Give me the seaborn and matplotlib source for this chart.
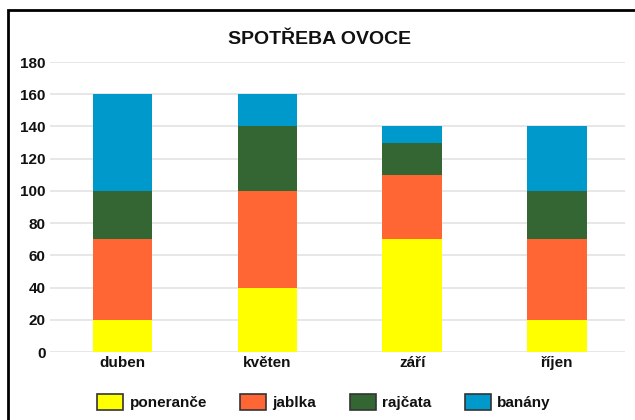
import matplotlib
matplotlib.use("Agg")
import matplotlib.pyplot as plt
import seaborn as sns
import pandas as pd
from matplotlib.patches import Rectangle, Patch

months = ["duben", "květen", "září", "říjen"]
fruits = ["poneranče", "jablka", "rajčata", "banány"]
ponerance = [20, 40, 70, 20]
jablka = [50, 60, 40, 50]
rajcata = [30, 40, 20, 30]
banany = [60, 20, 10, 40]
colors = ["#FFFF00", "#FF6633", "#336633", "#0099CC"]

sns.set_theme(style="white")
plt.rcParams["font.family"] = ["Liberation Sans", "DejaVu Sans"]
plt.rcParams["text.color"] = "#111111"

df = pd.DataFrame({"month": months, "poneranče": ponerance, "jablka": jablka,
                   "rajčata": rajcata, "banány": banany})
cum = df[fruits].cumsum(axis=1)
cum["month"] = months

fig = plt.figure(figsize=(6.35, 4.2), dpi=100)
ax = fig.add_axes([50 / 635, 68 / 420, 575 / 635, 290 / 420])

# stacked bars: draw the cumulative totals from the top layer down
for fruit, col in reversed(list(zip(fruits, colors))):
    sns.barplot(data=cum, x="month", y=fruit, order=months, color=col,
                width=0.41, saturation=1, linewidth=0, ax=ax, zorder=3)

ax.set_ylim(0, 180)
ax.set_yticks(range(0, 181, 20))
ax.set_xlim(-0.5, 3.47)
ax.grid(True, axis="y", color="#e3e3e3", linewidth=1.2, zorder=0)
ax.set_axisbelow(True)
for s in ax.spines.values():
    s.set_visible(False)
ax.set_xlabel("")
ax.set_ylabel("")
ax.tick_params(axis="both", length=0, labelsize=11, labelcolor="#111111")
ax.tick_params(axis="x", pad=3)
ax.tick_params(axis="y", pad=3)
for lab in ax.get_xticklabels() + ax.get_yticklabels():
    lab.set_fontweight("bold")

fig.text(0.504, 1 - 39 / 420, "SPOTŘEBA OVOCE", ha="center", va="center",
         fontsize=14, fontweight="bold", color="#111111")

handles = [Patch(facecolor=c, edgecolor="#333333", linewidth=1.2) for c in colors]
fig.legend(handles, fruits, loc="center", bbox_to_anchor=(324 / 635, 1 - 402 / 420),
           ncol=4, frameon=False, prop={"weight": "bold", "size": 11},
           handlelength=1.7, handleheight=1.3, columnspacing=2.2, handletextpad=0.4)

fig.patches.append(Rectangle((8 / 635, -0.05), 1.2, 1 - 10 / 420 + 0.05,
                             transform=fig.transFigure, fill=False,
                             edgecolor="black", linewidth=2))

fig.savefig("out.png", dpi=100)
